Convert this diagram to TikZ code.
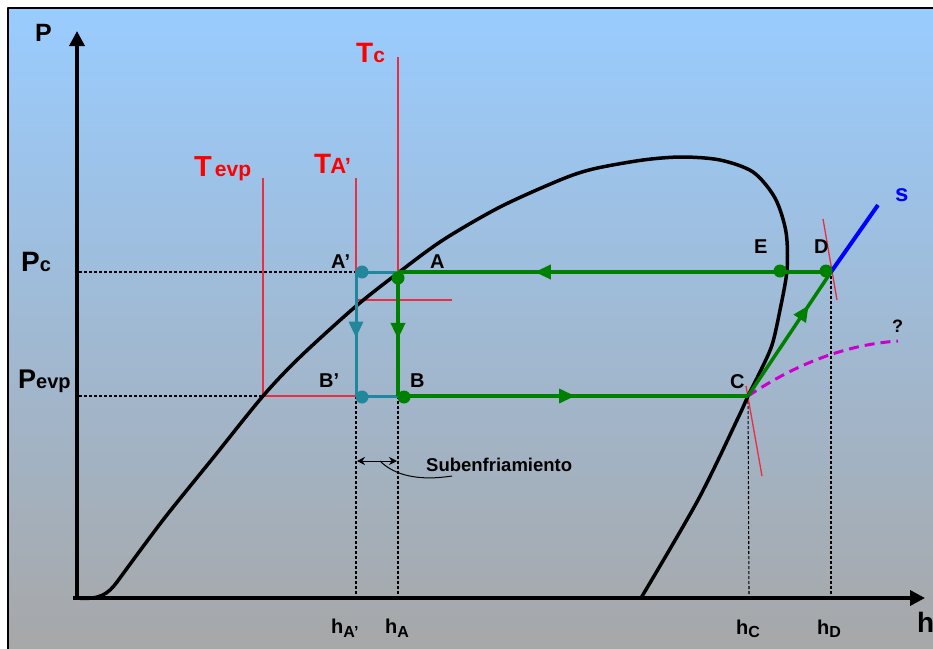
\documentclass[tikz,border=0pt]{standalone}
\usepackage{fontspec}
\setmainfont{Liberation Sans}
\usetikzlibrary{arrows.meta,decorations.markings}
\definecolor{bgtop}{RGB}{153,204,255}
\definecolor{bgbot}{RGB}{167,167,167}
\definecolor{cgreen}{RGB}{0,128,0}
\definecolor{cteal}{RGB}{35,135,155}
\definecolor{cred}{RGB}{235,45,65}
\definecolor{cmag}{RGB}{204,0,204}
\definecolor{cblue}{RGB}{0,0,255}
\newcommand{\fsz}[1]{\fontsize{#1}{#1}\selectfont}
\begin{document}
\begin{tikzpicture}[x=1pt,y=-1pt,line join=round,
  lbl/.style={inner sep=0pt,anchor=base west,font=\bfseries},
  dotg/.style={circle,fill=cgreen,inner sep=0pt,minimum size=13pt},
  dott/.style={circle,fill=cteal,inner sep=0pt,minimum size=13pt},
  axisline/.style={line width=3.5pt,-{Triangle[length=15pt,width=15pt]}},
  guide/.style={line width=1.1pt,dash pattern=on 3pt off 2pt},
  isoth/.style={cred,line width=1.3pt},
  greenline/.style={cgreen,line width=3.5pt},
  tealline/.style={cteal,line width=3pt},
  marr/.style={postaction={decorate},decoration={markings,
     mark=at position #1 with {\arrow{Triangle[length=16pt,width=14pt]}}}},
  dome/.style={line width=3.5pt,line cap=round}
]
\useasboundingbox (0,0) rectangle (933,648);
\fill[white] (0,0) rectangle (933,648);
\shade[top color=bgtop,bottom color=bgbot] (8,8) rectangle (945,655);
\draw[line width=2pt] (8,660) -- (8,8) -- (945,8);

% key points
\coordinate (O) at (77,598);
\coordinate (Ptip) at (77,31);
\coordinate (htip) at (925,598);
\coordinate (A) at (398,272);
\coordinate (B) at (398,396);
\coordinate (Ap) at (356,272);
\coordinate (Bp) at (356,396);
\coordinate (C) at (748,396);
\coordinate (D) at (831,272);
\coordinate (Pc) at (79,272);
\coordinate (Pe) at (79,396);
\coordinate (TcTop) at (398,57);
\coordinate (TeTop) at (263,178);
\coordinate (TeCor) at (263,396);
\coordinate (TaTop) at (356,178);
\coordinate (TaCor) at (356,300);
\coordinate (TaEnd) at (452,300);
\coordinate (hAp) at (356,598);
\coordinate (hA) at (398,598);
\coordinate (hC) at (749,598);
\coordinate (Dv) at (831,276);
\coordinate (hD) at (831,598);
\coordinate (Stip) at (878,205);
\coordinate (Q) at (898,341);
\coordinate (tD1) at (823,219);
\coordinate (tD2) at (837,300);
\coordinate (tC1) at (746,386);
\coordinate (tC2) at (762,476);
\coordinate (sub1) at (357,461);
\coordinate (sub2) at (397,461);
\coordinate (lead1) at (380,461);
\coordinate (lead2) at (452,476);

% guides
\draw[guide] (Pc) -- (Ap);
\draw[guide] (Pe) -- (TeCor);
\draw[guide] (Bp) -- (hAp);
\draw[guide] (B) -- (hA);
\draw[guide] (C) -- (hC);
\draw[guide] (Dv) -- (hD);

% isotherms
\draw[isoth] (TcTop) -- (A);
\draw[isoth] (TeTop) -- (TeCor) -- (Bp);
\draw[isoth] (TaTop) -- (TaCor) -- (TaEnd);
\draw[isoth] (tD1) -- (tD2);
\draw[isoth] (tC1) -- (tC2);

% axes
\draw[axisline] (O) -- (Ptip);
\draw[axisline] ([xshift=-4pt]O) -- (htip);

% saturation dome
\draw[dome] (O) .. controls (100,600) and (108,594) .. (117,582);
\draw[dome] plot[smooth,tension=0.5] coordinates {(117,582) (163,520) (213,458) (263,396)
  (300,357) (355,307) (398,273) (443,240) (500,207) (560,180) (593,169) (643,160)
  (682,157) (720,160) (753,172) (775,198) (786,232) (787,270) (780,310)
  (772,345) (760,372) (748,396) (738,418) (698,500) (641,598)};

% magenta dashed and blue s
\draw[cmag,line width=3pt,dash pattern=on 10pt off 6pt] (C) .. controls (790,368) and (840,345) .. (Q);
\draw[cblue,line width=4pt] (D) -- (Stip);

% cycle
\draw[tealline] (Ap) -- (A);
\draw[tealline,marr=0.53] (Ap) -- (Bp);
\draw[tealline] (Bp) -- (B);
\draw[greenline,marr=0.684] (D) -- (A);
\draw[greenline,marr=0.54] (A) -- (B);
\draw[greenline,marr=0.506] (B) -- (C);
\draw[greenline,marr=0.73] (C) -- (D);

% dots
\node[dott] (dAp) at (362,272) {};
\node[dott] (dBp) at (362,397) {};
\node[dotg] (dA) at (398,278) {};
\node[dotg] (dB) at (404,397) {};
\node[dotg] (dE) at (780,271) {};
\node[dotg] (dD) at (826,271) {};

% subenfriamiento
\draw[line width=1pt,{Stealth[length=8pt,width=8pt]}-{Stealth[length=8pt,width=8pt]}] (sub1) -- (sub2);
\draw[line width=1pt] (lead1) .. controls (395,476) and (420,481) .. (lead2);
\node[lbl] (subl) at (426,471) {\fsz{18.5}Subenfriamiento};

% labels
\node[lbl] (lP) at (35,41) {\fsz{25}P};
\node[lbl] (lh) at (917,632) {\fsz{28}h};
\node[lbl,text=red] (lTc) at (356,62) {\fsz{28}T\fsz{21}c};
\node[lbl,text=red] (lTe) at (194,176) {\fsz{29}T\hspace{3pt}\fsz{21}evp};
\node[lbl,text=red] (lTa) at (314,173) {\fsz{28}T\kern-1pt\fsz{22}A’};
\node[lbl] (lPc) at (21,271) {\fsz{28}P\fsz{20}c};
\node[lbl] (lPe) at (18,388) {\fsz{27}P\fsz{20}evp};
\node[lbl] (lAp) at (331,268) {\fsz{20}A’};
\node[lbl] (lA) at (430,268) {\fsz{20}A};
\node[lbl] (lBp) at (319,387) {\fsz{20}B’};
\node[lbl] (lB) at (410,387) {\fsz{20}B};
\node[lbl] (lE) at (754,253) {\fsz{20}E};
\node[lbl] (lD) at (814,253) {\fsz{20}D};
\node[lbl] (lC) at (730,388) {\fsz{20}C};
\node[lbl,text=cblue] (ls) at (895,201) {\fsz{24}s};
\node[lbl] (lq) at (892,332) {\fsz{18}?};
\node[lbl] (lhAp) at (331,633) {\fsz{20}h\raisebox{-4pt}{\fsz{16}A’}};
\node[lbl] (lhA) at (385,633) {\fsz{20}h\raisebox{-4pt}{\fsz{16}A}};
\node[lbl] (lhC) at (736,634) {\fsz{20}h\raisebox{-3pt}{\fsz{16}C}};
\node[lbl] (lhD) at (817,634) {\fsz{20}h\raisebox{-3pt}{\fsz{16}D}};
\end{tikzpicture}
\end{document}
